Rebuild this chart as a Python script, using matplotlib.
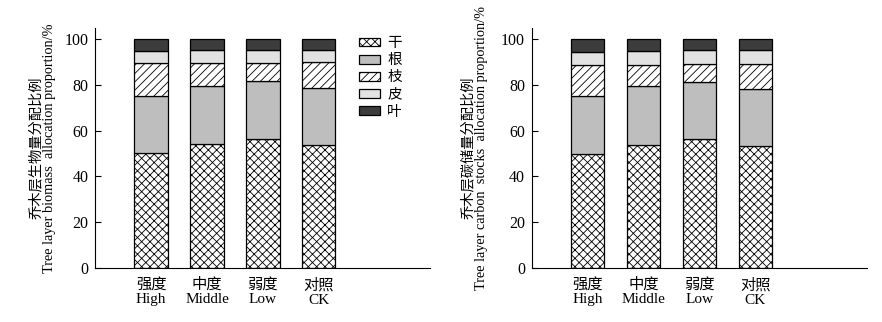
import numpy as np
import matplotlib
matplotlib.use("Agg")
import matplotlib.pyplot as plt

plt.rcParams["font.family"] = ["Liberation Serif", "Noto Sans CJK SC"]
plt.rcParams["hatch.linewidth"] = 0.6

groups = ["强度\nHigh", "中度\nMiddle", "弱度\nLow", "对照\nCK"]
parts = ["干", "根", "枝", "皮", "叶"]

# biomass allocation (%)
bio_stem = [50.0, 54.1, 56.2, 53.5]
bio_root = [25.0, 25.4, 25.3, 25.0]
bio_branch = [14.4, 9.9, 7.9, 11.3]
bio_bark = [5.2, 5.7, 5.9, 5.5]
bio_leaf = [5.4, 4.9, 4.7, 4.7]

# carbon stock allocation (%)
c_stem = [49.9, 53.9, 56.1, 53.3]
c_root = [25.2, 25.5, 25.2, 25.0]
c_branch = [13.6, 9.4, 7.8, 10.8]
c_bark = [5.6, 6.0, 6.0, 6.0]
c_leaf = [5.7, 5.2, 4.9, 4.9]

colors = ["white", "#bebebe", "white", "#e2e2e2", "#3c3c3c"]
hatches = ["xxxx", None, "////", None, None]


def draw(ax, series, ylabel, pad, legend=False):
    x = np.arange(len(groups))
    bottom = np.zeros(len(groups))
    for name, vals, c, h in zip(parts, series, colors, hatches):
        ax.bar(x, vals, 0.6, bottom=bottom, color=c, hatch=h,
               edgecolor="black", linewidth=0.9, label=name)
        bottom += np.array(vals)
    ax.set_xlim(-1, 5)
    ax.set_ylim(0, 104.8)
    ax.set_yticks([0, 20, 40, 60, 80, 100])
    ax.set_xticks(x)
    ax.set_xticklabels(groups, fontsize=11, linespacing=1.15)
    ax.tick_params(axis="x", length=0, pad=7)
    ax.tick_params(axis="y", direction="in", length=4, labelsize=11.5, pad=5)
    for s in ["top", "right"]:
        ax.spines[s].set_visible(False)
    ax.set_ylabel(ylabel, fontsize=10.3, linespacing=1.05, labelpad=pad)
    if legend:
        ax.legend(loc="upper left", bbox_to_anchor=(0.786, 0.962), frameon=False,
                  fontsize=10.5, handlelength=1.45, handleheight=0.55,
                  labelspacing=0.28, handletextpad=0.5,
                  borderpad=0, borderaxespad=0)


fig = plt.figure(figsize=(8.82, 3.22), dpi=100)
ax1 = fig.add_axes([0.108, 0.168, 0.380, 0.745])
ax2 = fig.add_axes([0.603, 0.168, 0.380, 0.745])

draw(ax1, [bio_stem, bio_root, bio_branch, bio_bark, bio_leaf],
     "乔木层生物量分配比例\nTree layer biomass  allocation proportion/%", 6, legend=True)
draw(ax2, [c_stem, c_root, c_branch, c_bark, c_leaf],
     "乔木层碳储量分配比例\nTree layer carbon  stocks  allocation proportion/%", 9)

fig.savefig("out.png", dpi=100)
